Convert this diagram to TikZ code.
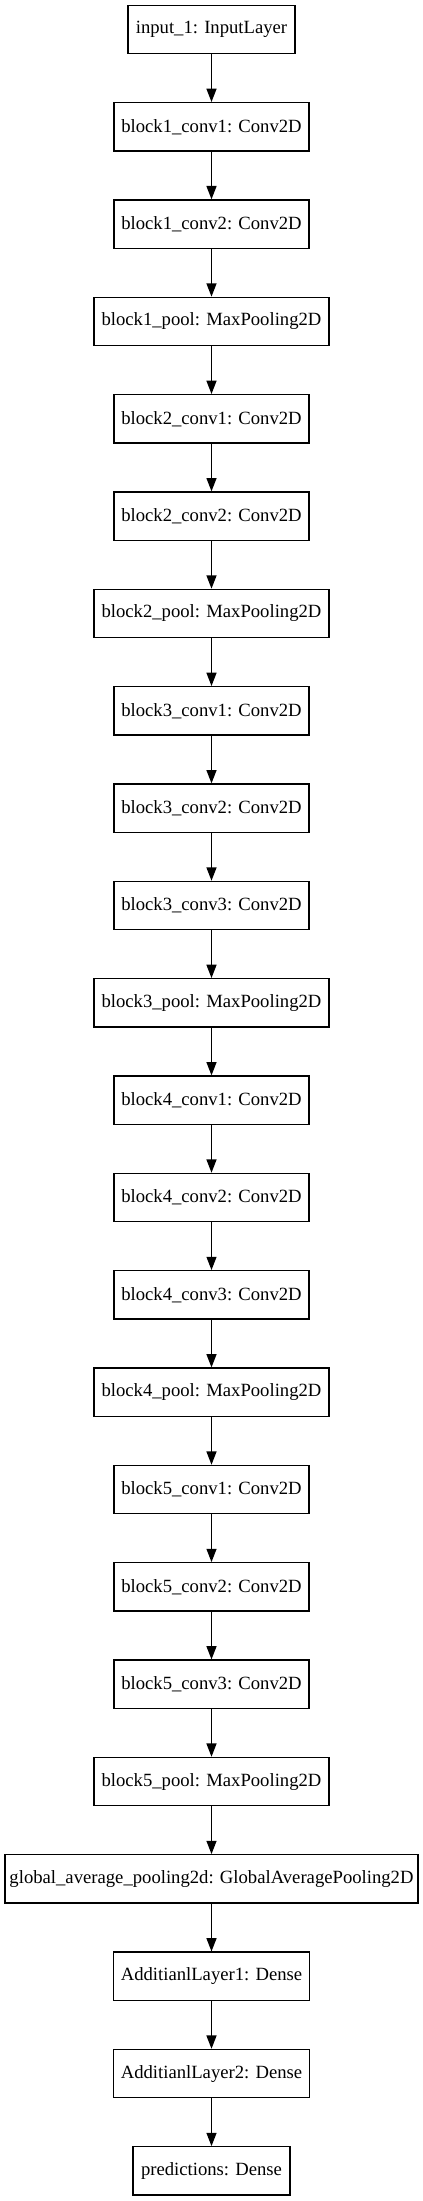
\documentclass[tikz,border=0pt]{standalone}
\usepackage{fontspec}
\setmainfont{Liberation Serif}
\usetikzlibrary{arrows.meta}
\tikzset{
  layer/.style={draw, line width=1pt, inner sep=0pt, minimum height=36.2pt, font=\fontsize{14pt}{16pt}\selectfont, anchor=center},
  inw/.style={layer, minimum width=125.25pt},
  convw/.style={layer, minimum width=146.25pt},
  poolw/.style={layer, minimum width=176.25pt},
  gapw/.style={layer, minimum width=309.75pt},
  densew/.style={layer, minimum width=147pt},
  predw/.style={layer, minimum width=117.75pt},
  link/.style={line width=1pt, -{Triangle[length=10pt,width=7.5pt]}}
}
\begin{document}
\begin{tikzpicture}[x=0.75pt,y=-0.75pt]
\useasboundingbox (0,0) rectangle (423,2201);
\def\cx{211.5}
\node[inw]    (n1)  at (\cx, 29.45)   {input\_1: InputLayer};
\node[convw]  (n2)  at (\cx, 126.79)  {block1\_conv1: Conv2D};
\node[convw]  (n3)  at (\cx, 224.13)  {block1\_conv2: Conv2D};
\node[poolw]  (n4)  at (\cx, 321.47)  {block1\_pool: MaxPooling2D};
\node[convw]  (n5)  at (\cx, 418.81)  {block2\_conv1: Conv2D};
\node[convw]  (n6)  at (\cx, 516.15)  {block2\_conv2: Conv2D};
\node[poolw]  (n7)  at (\cx, 613.49)  {block2\_pool: MaxPooling2D};
\node[convw]  (n8)  at (\cx, 710.83)  {block3\_conv1: Conv2D};
\node[convw]  (n9)  at (\cx, 808.17)  {block3\_conv2: Conv2D};
\node[convw]  (n10) at (\cx, 905.51)  {block3\_conv3: Conv2D};
\node[poolw]  (n11) at (\cx, 1002.85) {block3\_pool: MaxPooling2D};
\node[convw]  (n12) at (\cx, 1100.19) {block4\_conv1: Conv2D};
\node[convw]  (n13) at (\cx, 1197.53) {block4\_conv2: Conv2D};
\node[convw]  (n14) at (\cx, 1294.87) {block4\_conv3: Conv2D};
\node[poolw]  (n15) at (\cx, 1392.21) {block4\_pool: MaxPooling2D};
\node[convw]  (n16) at (\cx, 1489.55) {block5\_conv1: Conv2D};
\node[convw]  (n17) at (\cx, 1586.89) {block5\_conv2: Conv2D};
\node[convw]  (n18) at (\cx, 1684.23) {block5\_conv3: Conv2D};
\node[poolw]  (n19) at (\cx, 1781.57) {block5\_pool: MaxPooling2D};
\node[gapw]   (n20) at (\cx, 1878.91) {global\_average\_pooling2d: GlobalAveragePooling2D};
\node[densew] (n21) at (\cx, 1976.25) {AdditianlLayer1: Dense};
\node[densew] (n22) at (\cx, 2073.59) {AdditianlLayer2: Dense};
\node[predw]  (n23) at (\cx, 2170.93) {predictions: Dense};
\foreach \a/\b in {1/2,2/3,3/4,4/5,5/6,6/7,7/8,8/9,9/10,10/11,11/12,12/13,13/14,14/15,15/16,16/17,17/18,18/19,19/20,20/21,21/22,22/23}
  \draw[link] (n\a.south) -- (n\b.north);
\end{tikzpicture}
\end{document}
